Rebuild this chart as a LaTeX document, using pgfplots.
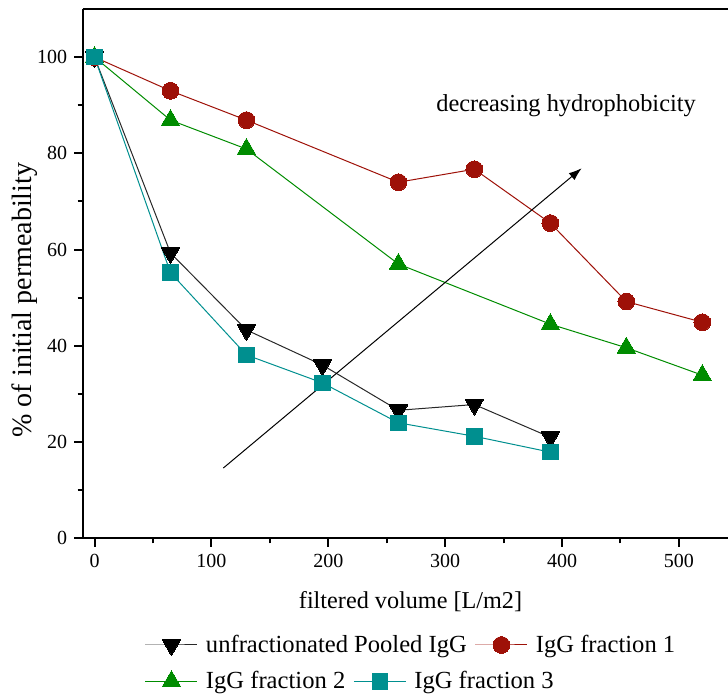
\documentclass[border=0pt]{standalone}
\usepackage{fontspec}
\setmainfont{Liberation Serif}
\usepackage{pgfplots}
\pgfplotsset{compat=1.18}
\usetikzlibrary{arrows.meta}
\definecolor{cRed}{RGB}{158,17,8}
\definecolor{cGreen}{RGB}{0,140,0}
\definecolor{cTeal}{RGB}{0,143,143}
\definecolor{cBlk}{RGB}{0,0,0}
\definecolor{cBlkLine}{RGB}{40,40,40}
\pgfplotsset{
  myleg/.style={
    legend style={draw=none, fill=none, inner sep=0pt, outer sep=0pt,
      font=\fontsize{12.3}{14}\selectfont,
      nodes={inner sep=2pt},
      /tikz/every odd column/.append style={column sep=2pt},
      /tikz/every even column/.append style={column sep=2pt}},
    legend cell align=left,
    legend image code/.code={\draw[mark repeat=2,mark phase=2] plot coordinates {(0pt,0pt) (13pt,0pt) (26pt,0pt)};},
  },
  sBlack/.style={color=cBlkLine, line width=0.5pt, mark=triangle*, mark size=5.3pt, mark options={rotate=180, fill=cBlk, draw=cBlk, line width=0pt}},
  sRed/.style={color=cRed, line width=0.5pt, mark=*, mark size=4.2pt, mark options={fill=cRed, draw=cRed, line width=0pt}},
  sGreen/.style={color=cGreen, line width=0.5pt, mark=triangle*, mark size=5.3pt, mark options={fill=cGreen, draw=cGreen, line width=0pt}},
  sTeal/.style={color=cTeal, line width=0.5pt, mark=square*, mark size=3.9pt, mark options={fill=cTeal, draw=cTeal, line width=0pt}},
}
\begin{document}
\begin{tikzpicture}
\useasboundingbox (-41.35pt,-77.85pt) rectangle (322.65pt,269.15pt);
\begin{axis}[
  scale only axis, width=322.65pt, height=264.65pt,
  xmin=-10.1, xmax=542, ymin=0, ymax=110,
  axis x line*=box, axis y line*=left,
  axis line style={-, line width=1pt},
  xtick pos=lower, ytick pos=left,
  xtick={0,100,...,500}, ytick={0,20,...,100},
  minor x tick num=1, minor y tick num=1,
  tick align=outside,
  major tick length=4.2pt, minor tick length=2.5pt,
  every tick/.style={black, line width=1pt},
  tick label style={font=\fontsize{10}{12}\selectfont},
  /pgf/number format/assume math mode=true,
  xlabel={filtered volume [L/m2]},
  ylabel={\% of initial permeability},
  xlabel style={font=\fontsize{12.1}{14}\selectfont, at={(axis description cs:0.508,-0.1317)}, anchor=base},
  ylabel style={font=\fontsize{14}{16}\selectfont, at={(axis description cs:-0.0894,0.450)}, anchor=center},
  myleg, legend columns=2,
  legend style={at={(axis description cs:0.0965,-0.2016)}, anchor=west},
]
\addplot[sBlack] coordinates {(0,100) (65,59.3) (130,43.3) (195,36.0) (260,26.6) (325,27.8) (390,21.0)};
\addlegendentry{unfractionated Pooled IgG}
\addplot[sRed] coordinates {(0,100) (65,93.0) (130,86.9) (260,74.0) (325,76.7) (390,65.5) (455,49.2) (520,44.9)};
\addlegendentry{IgG fraction 1}
\addplot[sGreen, forget plot] coordinates {(0,100) (65,86.9) (130,80.9) (260,57.0) (390,44.5) (455,39.6) (520,33.9)};
\addplot[sTeal, forget plot] coordinates {(0,100) (65,55.2) (130,38.1) (195,32.3) (260,24.0) (325,21.2) (390,17.9)};
\draw[line width=0.5pt, -{Latex[length=6.5pt,width=4.5pt]}] (axis cs:110.2,14.6) -- (axis cs:416.8,76.9);
\node[anchor=base west, inner sep=0pt, font=\fontsize{12.2}{14}\selectfont] at (axis cs:292.1,88.7) {decreasing hydrophobicity};
\end{axis}
\begin{axis}[
  scale only axis, width=322.65pt, height=264.65pt,
  hide axis, xmin=0, xmax=1, ymin=0, ymax=1,
  myleg, legend columns=2,
  legend style={at={(axis description cs:0.0965,-0.270)}, anchor=west},
]
\addlegendimage{sGreen}
\addlegendentry{IgG fraction 2}
\addlegendimage{sTeal}
\addlegendentry{IgG fraction 3}
\end{axis}
\end{tikzpicture}
\end{document}
